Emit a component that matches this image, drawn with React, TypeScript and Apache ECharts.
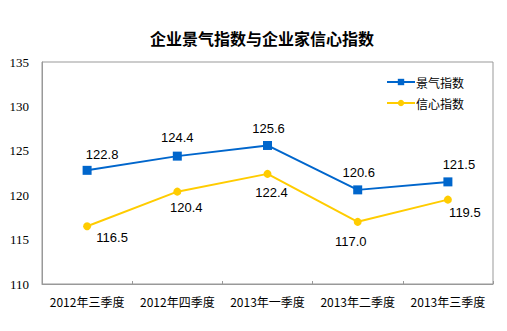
import React, { useEffect, useRef } from "react";
import * as echarts from "echarts";

const categories = ["2012年三季度", "2012年四季度", "2013年一季度", "2013年二季度", "2013年三季度"];
const jingqiValues = [122.8, 124.4, 125.6, 120.6, 121.5];
const xinxinValues = [116.5, 120.4, 122.4, 117.0, 119.5];
const yTicks = { min: 110, max: 135, interval: 5 };

// label offsets (styling only)
const jingqiLabelOffsets = [[15, -16], [0, -19], [1, -17], [1, -17], [11, -17]];
const xinxinLabelOffsets = [[25, 11], [9, 16], [4, 19], [-7, 20], [17, 13]];

export default function App() {
  const ref = useRef<HTMLDivElement>(null);
  useEffect(() => {
    if (!ref.current) return;
    const chart = echarts.init(ref.current, null, { renderer: "svg" });
    const labelBase = {
      show: true,
      position: "inside",
      color: "#000",
      fontFamily: "Liberation Sans",
      fontSize: 13,
      formatter: (p: any) => Number(p.value).toFixed(1),
    };
    chart.setOption({
      animation: false,
      backgroundColor: "#fff",
      title: {
        text: "企业景气指数与企业家信心指数",
        left: 257,
        textAlign: "center",
        top: 25,
        textStyle: { fontFamily: "Noto Sans CJK SC", fontSize: 16, fontWeight: "bold", color: "#000" },
      },
      legend: {
        orient: "vertical",
        left: 381,
        top: 71,
        itemWidth: 28,
        itemHeight: 8,
        itemGap: 9,
        textStyle: { fontFamily: "Noto Sans CJK SC", fontSize: 12, color: "#000", padding: [0, 0, 0, -4] },
        data: ["景气指数", "信心指数"],
      },
      grid: {
        left: 42,
        top: 62,
        width: 451,
        height: 222,
        show: true,
        borderColor: "#999",
        borderWidth: 1,
        backgroundColor: "transparent",
      },
      xAxis: {
        type: "category",
        data: categories,
        boundaryGap: true,
        axisLine: { show: true, lineStyle: { color: "#999", width: 1 } },
        axisTick: { show: true, inside: true, length: 3, lineStyle: { color: "#999" } },
        axisLabel: { color: "#000", fontFamily: "Noto Sans CJK SC", fontSize: 12, margin: 11, interval: 0 },
        splitLine: { show: false },
      },
      yAxis: {
        type: "value",
        min: yTicks.min,
        max: yTicks.max,
        interval: yTicks.interval,
        axisLine: { show: true, lineStyle: { color: "#999" } },
        axisTick: { show: false },
        splitLine: { show: false },
        axisLabel: { color: "#000", fontFamily: "Liberation Serif", fontSize: 13, margin: 13 },
      },
      series: [
        {
          name: "景气指数",
          type: "line",
          data: jingqiValues.map((v, i) => ({ value: v, label: { offset: jingqiLabelOffsets[i] } })),
          symbol: "rect",
          symbolSize: 9,
          itemStyle: { color: "#0066CC" },
          lineStyle: { color: "#0066CC", width: 2 },
          label: labelBase,
        },
        {
          name: "信心指数",
          type: "line",
          data: xinxinValues.map((v, i) => ({ value: v, label: { offset: xinxinLabelOffsets[i] } })),
          symbol: "circle",
          symbolSize: 8,
          itemStyle: { color: "#FFCC00" },
          lineStyle: { color: "#FFCC00", width: 2 },
          label: labelBase,
        },
      ],
    });
    return () => chart.dispose();
  }, []);
  return (
    <div
      ref={ref}
      style={{ position: "fixed", left: 0, top: 0, width: 507, height: 331, background: "#fff" }}
    />
  );
}
